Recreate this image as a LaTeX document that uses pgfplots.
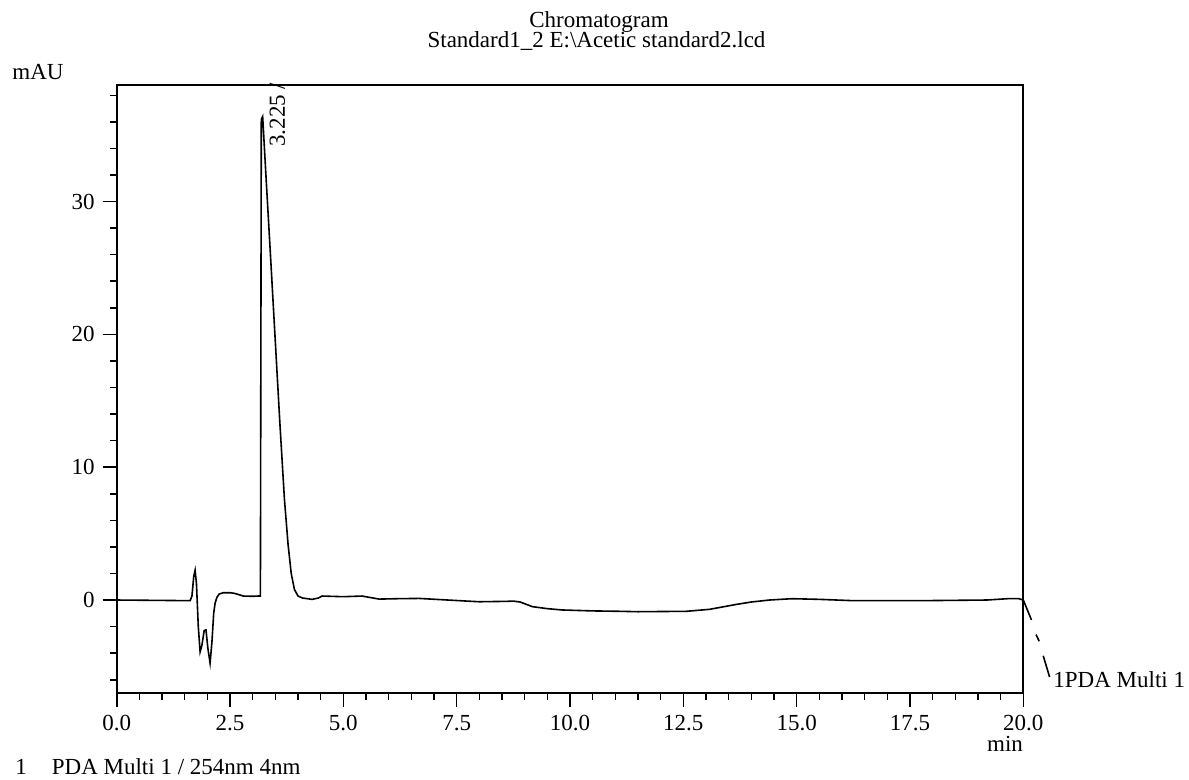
\documentclass[border=0pt]{standalone}
\usepackage{fontspec}
\setmainfont{Liberation Serif}
\usepackage{pgfplots}
\pgfplotsset{compat=1.18}
\begin{document}
\fontsize{11.5}{13.8}\selectfont
\begin{tikzpicture}[x=1pt,y=1pt]
\useasboundingbox (0,0) rectangle (594.5,390);
\begin{axis}[
  at={(58.35pt,43.5pt)}, anchor=south west,
  scale only axis, width=453.3pt, height=303.75pt,
  xmin=0, xmax=20, ymin=-7, ymax=38.74,
  xtick={0,2.5,5,7.5,10,12.5,15,17.5,20},
  minor xtick={0.5,1,1.5,2,3,3.5,4,4.5,5.5,6,6.5,7,8,8.5,9,9.5,10.5,11,11.5,12,13,13.5,14,14.5,15.5,16,16.5,17,18,18.5,19,19.5},
  ytick={0,10,20,30},
  minor ytick={-6,-4,-2,2,4,6,8,12,14,16,18,22,24,26,28,32,34,36,38},
  tick align=outside, tickpos=left,
  major tick length=7pt, minor tick length=3.3pt,
  every tick/.style={black, line width=0.8pt},
  axis line style={line width=1pt},
  scaled x ticks=false, scaled y ticks=false,
  /pgf/number format/assume math mode=true,
  xticklabel style={/pgf/number format/.cd, fixed, fixed zerofill, precision=1},
  yticklabel style={/pgf/number format/.cd, fixed, precision=0},
  tick label style={font=\fontsize{11.5}{13.8}\selectfont},
  clip=false,
]
\addplot[black, line width=0.8pt] coordinates {
(0,0) (1.0,-0.03) (1.62,-0.05) (1.66,0.3) (1.70,1.8) (1.73,2.25) (1.76,1.2) (1.80,-2.0) (1.84,-3.9)
(1.88,-3.4) (1.93,-2.3) (1.97,-2.25) (2.01,-3.6) (2.06,-4.75) (2.10,-3.2) (2.14,-1.0) (2.17,-0.25)
(2.21,0.2) (2.26,0.45) (2.35,0.55) (2.50,0.55) (2.60,0.5) (2.70,0.4) (2.79,0.3) (3.0,0.28) (3.12,0.3)
(3.17,0.3) (3.19,36.2) (3.22,36.4) (3.30,31.5) (3.40,25.5) (3.50,19.4) (3.60,13.3) (3.70,7.6)
(3.78,4.2) (3.85,2.0) (3.92,0.8) (4.0,0.3) (4.1,0.15) (4.31,0.05) (4.45,0.15) (4.53,0.3)
(5.0,0.25) (5.41,0.3) (5.79,0.07) (6.2,0.1) (6.67,0.12) (7.3,0.0) (7.72,-0.08) (8.0,-0.13)
(8.6,-0.1) (8.75,-0.08) (8.9,-0.15) (9.17,-0.5) (9.5,-0.65) (9.83,-0.75) (10.5,-0.82)
(11.1,-0.85) (11.5,-0.88) (12.57,-0.85) (13.08,-0.7) (13.4,-0.5) (13.67,-0.33) (14.0,-0.15)
(14.4,0.0) (14.9,0.1) (15.5,0.05) (16.25,-0.05) (17.7,-0.05) (19.2,0.0) (19.65,0.1) (19.9,0.1) (20,0)
(20.18,-1.5)
};
\addplot[black, line width=0.8pt] coordinates {(20.28,-2.6) (20.35,-3.1)};
\addplot[black, line width=0.8pt] coordinates {(20.44,-4.2) (20.58,-5.8)};
\node[rotate=90, anchor=base west, inner sep=0pt] at (axis cs:3.71,34.1) {3.225 /};
\end{axis}
\node[anchor=base, inner sep=0pt] at (299.5,376) {Chromatogram};
\node[anchor=base, inner sep=0pt] at (298.25,366) {Standard1\_2 E:\textbackslash Acetic standard2.lcd};
\node[anchor=base west, inner sep=0pt] at (6,350) {mAU};
\node[anchor=base, inner sep=0pt] at (502.5,14) {min};
\node[anchor=base west, inner sep=0pt] at (7.5,2.5) {1\hspace{12.5pt}PDA Multi 1 / 254nm 4nm};
\node[anchor=base west, inner sep=0pt] at (526.5,46) {1PDA Multi 1};
\end{tikzpicture}
\end{document}
